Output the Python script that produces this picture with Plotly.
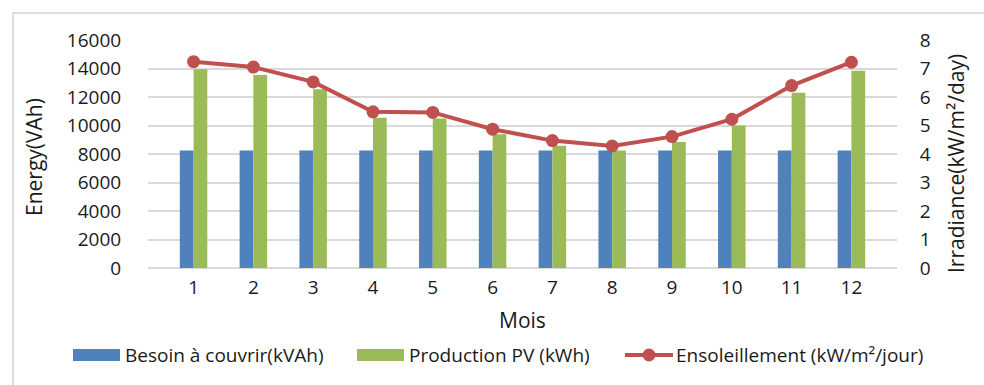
import plotly.graph_objects as go

# Monthly data
months = ["1", "2", "3", "4", "5", "6", "7", "8", "9", "10", "11", "12"]
besoin = [8250] * 12
production_pv = [13950, 13550, 12550, 10550, 10500, 9380, 8580, 8250, 8840, 10000, 12300, 13850]
ensoleillement = [7.24, 7.05, 6.53, 5.48, 5.46, 4.87, 4.47, 4.28, 4.61, 5.22, 6.40, 7.22]

energy_ticks = [0, 2000, 4000, 6000, 8000, 10000, 12000, 14000, 16000]
energy_labels = ["0", "2000", "4000", "6000", "8000", "10000", "12000", "14000", "16000"]
irr_ticks = [0, 1, 2, 3, 4, 5, 6, 7, 8]
irr_labels = ["0", "1", "2", "3", "4", "5", "6", "7", "8"]

BLUE = "#4F81BD"
GREEN = "#9BBB59"
RED = "#C0504D"
GRID = "#D9D9D9"
TEXT = "#1a1a1a"
FONT = "Open Sans"

W, H = 984, 385
L, R, T, B = 148, 87, 40, 117
PW, PH = W - L - R, H - T - B


def px(x):
    return (x - L) / PW


def py(y):
    return (H - B - y) / PH


fig = go.Figure()
fig.add_trace(go.Bar(x=months, y=besoin, name="Besoin à couvrir(kVAh)",
                     marker=dict(color=BLUE, line=dict(width=0)), showlegend=False))
fig.add_trace(go.Bar(x=months, y=production_pv, name="Production PV (kWh)",
                     marker=dict(color=GREEN, line=dict(width=0)), showlegend=False))
fig.add_trace(go.Scatter(x=months, y=ensoleillement, name="Ensoleillement (kW/m²/jour)",
                         yaxis="y2", mode="lines+markers",
                         line=dict(color=RED, width=4),
                         marker=dict(color=RED, size=13), showlegend=False))

shapes = [
    # chart frame
    dict(type="rect", xref="paper", yref="paper",
         x0=px(13), x1=px(1000), y0=py(13), y1=py(400),
         line=dict(color="#DCDCDC", width=2), fillcolor="rgba(0,0,0,0)", layer="below"),
    # legend swatches
    dict(type="rect", xref="paper", yref="paper",
         x0=px(73), x1=px(120), y0=py(349), y1=py(361),
         fillcolor=BLUE, line=dict(width=0)),
    dict(type="rect", xref="paper", yref="paper",
         x0=px(357), x1=px(404), y0=py(349), y1=py(361),
         fillcolor=GREEN, line=dict(width=0)),
    dict(type="line", xref="paper", yref="paper",
         x0=px(625), x1=px(673), y0=py(355), y1=py(355),
         line=dict(color=RED, width=4)),
    dict(type="circle", xref="paper", yref="paper",
         x0=px(642.5), x1=px(655.5), y0=py(348.5), y1=py(361.5),
         fillcolor=RED, line=dict(width=0)),
]

annotations = [
    dict(text="Energy(VAh)", xref="paper", yref="paper", x=px(34), y=py(157),
         textangle=-90, showarrow=False, xanchor="center", yanchor="middle",
         font=dict(size=21, color=TEXT, family=FONT)),
    dict(text="Irradiance(kW/m²/day)", xref="paper", yref="paper", x=px(956), y=py(164),
         textangle=-90, showarrow=False, xanchor="center", yanchor="middle",
         font=dict(size=21, color=TEXT, family=FONT)),
    dict(text="Mois", xref="paper", yref="paper", x=px(522), y=py(320),
         showarrow=False, xanchor="center", yanchor="middle",
         font=dict(size=21, color=TEXT, family=FONT)),
    dict(text="Besoin à couvrir(kVAh)", xref="paper", yref="paper", x=px(123), y=py(355),
         showarrow=False, xanchor="left", yanchor="middle",
         font=dict(size=19, color=TEXT, family=FONT)),
    dict(text="Production PV (kWh)", xref="paper", yref="paper", x=px(407), y=py(355),
         showarrow=False, xanchor="left", yanchor="middle",
         font=dict(size=19, color=TEXT, family=FONT)),
    dict(text="Ensoleillement (kW/m²/jour)", xref="paper", yref="paper", x=px(674), y=py(355),
         showarrow=False, xanchor="left", yanchor="middle",
         font=dict(size=19, color=TEXT, family=FONT)),
]

fig.update_layout(
    width=W, height=H,
    margin=dict(l=L, r=R, t=T, b=B, pad=0),
    paper_bgcolor="white", plot_bgcolor="white",
    barmode="group", bargap=0.54, bargroupgap=0,
    font=dict(family=FONT, color=TEXT, size=19),
    showlegend=False,
    shapes=shapes,
    annotations=annotations,
    xaxis=dict(type="category", showgrid=False, showline=False, zeroline=False,
               ticks="outside", ticklen=2, tickcolor="rgba(0,0,0,0)",
               tickfont=dict(size=19, color=TEXT, family=FONT)),
    yaxis=dict(range=[0, 16000], tickvals=energy_ticks, ticktext=energy_labels,
               showgrid=True, gridcolor=GRID, gridwidth=1.5, zeroline=True,
               zerolinecolor=GRID, zerolinewidth=2, showline=False,
               ticks="outside", ticklen=22, tickcolor="rgba(0,0,0,0)",
               tickfont=dict(size=19, color=TEXT, family=FONT)),
    yaxis2=dict(range=[0, 8], tickvals=irr_ticks, ticktext=irr_labels,
                overlaying="y", side="right",
                showgrid=False, zeroline=False, showline=False,
                ticks="outside", ticklen=18, tickcolor="rgba(0,0,0,0)",
                tickfont=dict(size=19, color=TEXT, family=FONT)),
)

fig.write_html("out.html")
